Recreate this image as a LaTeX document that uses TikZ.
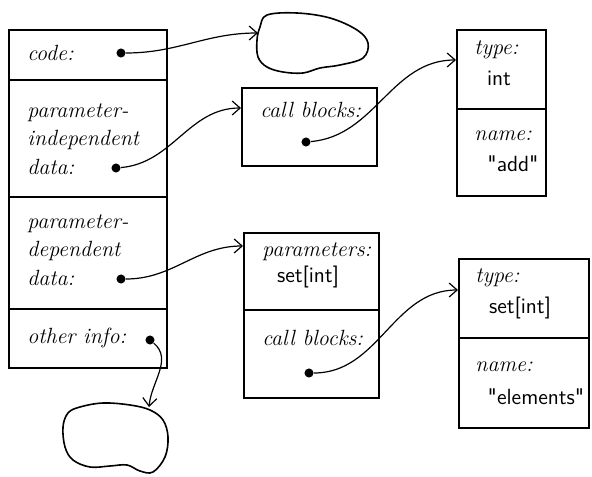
\documentclass[tikz,border=0pt]{standalone}
\usetikzlibrary{arrows.meta,positioning}
\tikzstyle{field}=[draw=black, rectangle, line width=0.9pt, anchor=north west, inner sep=0pt]
\tikzstyle{lab}=[anchor=west, inner sep=0pt, font=\fontsize{11}{13}\selectfont\itshape]
\tikzstyle{val}=[inner sep=0pt, font=\fontsize{11}{13}\selectfont\sffamily]
\tikzstyle{dot}=[circle, fill=black, inner sep=1.6pt]
\tikzstyle{l1}=[line width=0.6pt, -{Straight Barb[length=4pt,width=7pt]}]

\begin{document}
\begin{tikzpicture}[x=0.5pt, y=-0.5pt]
    \useasboundingbox (0,0) rectangle (592,476);
    % left record
    \node[field, minimum width=79pt, minimum height=25pt] at (8,29) (code) {};
    \node[field, minimum width=79pt, minimum height=58.5pt] at (8,79) (indep) {};
    \node[field, minimum width=79pt, minimum height=56pt] at (8,196) (dep) {};
    \node[field, minimum width=79pt, minimum height=29.5pt] at (8,308) (other) {};
    \node[lab] at (27,53) (l1a) {code:};
    \node[lab] at (27,113) (l2a) {parameter-};
    \node[lab] at (27,140) (l2b) {independent};
    \node[lab] at (27,167) (l2c) {data:};
    \node[lab] at (27,224) (l3a) {parameter-};
    \node[lab] at (27,251) (l3b) {dependent};
    \node[lab] at (27,278) (l3c) {data:};
    \node[lab] at (27,338) (l4a) {other info:};
    \node[dot] at (121,53) (d1) {};
    \node[dot] at (116,168) (d2) {};
    \node[dot] at (121,279) (d3) {};
    \node[dot] at (150,340) (d4) {};

    % middle records
    \node[field, minimum width=67.5pt, minimum height=39pt] at (241,87) (calls) {};
    \node[lab] at (260,110) (l5a) {call blocks:};
    \node[dot] at (306,142) (d5) {};
    \node[field, minimum width=67.5pt, minimum height=38.5pt] at (243,232) (params) {};
    \node[field, minimum width=67.5pt, minimum height=44pt] at (243,309) (calls2) {};
    \node[lab] at (262,252) (l6a) {parameters:};
    \node[val] at (308,277) (v6a) {set[int]};
    \node[lab] at (262,338) (l6b) {call blocks:};
    \node[dot] at (309,373) (d6) {};

    % right records
    \node[field, minimum width=44.5pt, minimum height=39.5pt] at (456,29) (type1) {};
    \node[field, minimum width=44.5pt, minimum height=43.5pt] at (456,108) (name1) {};
    \node[lab] at (474,50) (l7a) {type:};
    \node[val] at (499,78) (v7a) {int};
    \node[lab] at (474,136) (l7b) {name:};
    \node[val] at (513,164) (v7b) {\textquotedbl add\textquotedbl};
    \node[field, minimum width=65pt, minimum height=39.5pt] at (458,258) (type2) {};
    \node[field, minimum width=65pt, minimum height=45pt] at (458,337) (name2) {};
    \node[lab] at (475,278) (l8a) {type:};
    \node[val] at (520,308) (v8a) {set[int]};
    \node[lab] at (475,367) (l8b) {name:};
    \node[val] at (536,397) (v8b) {\textquotedbl elements\textquotedbl};

    % clouds
    \draw[line width=0.8pt] plot[smooth cycle, tension=0.6] coordinates {(260,27) (267,15) (297,13) (330,18) (357,30) (368,43) (363,58) (340,65) (320,68) (303,73) (283,72) (267,67) (258,57) (257,40)};
    \draw[line width=0.8pt] plot[smooth cycle, tension=0.6] coordinates {(80,407) (103,403) (130,405) (150,410) (163,420) (168,437) (165,457) (153,472) (140,471) (127,465) (110,466) (90,467) (73,460) (65,447) (63,427) (68,413)};
    \coordinate (c1) at (258,33);
    \coordinate (c2) at (149,407);

    % pointers
    \draw[l1] (d1) to[out=0, in=180] (c1);
    \draw[l1] (d2) to[out=5, in=180] (calls.west |- 0,108);
    \draw[l1] (d3) to[out=0, in=180] (params.west |- 0,246);
    \draw[l1] (d4) to[out=-40, in=85] (c2);
    \draw[l1] (d5) to[out=5, in=180] (type1.west |- 0,60);
    \draw[l1] (d6) to[out=0, in=180] (type2.west |- 0,290);
\end{tikzpicture}
\end{document}
